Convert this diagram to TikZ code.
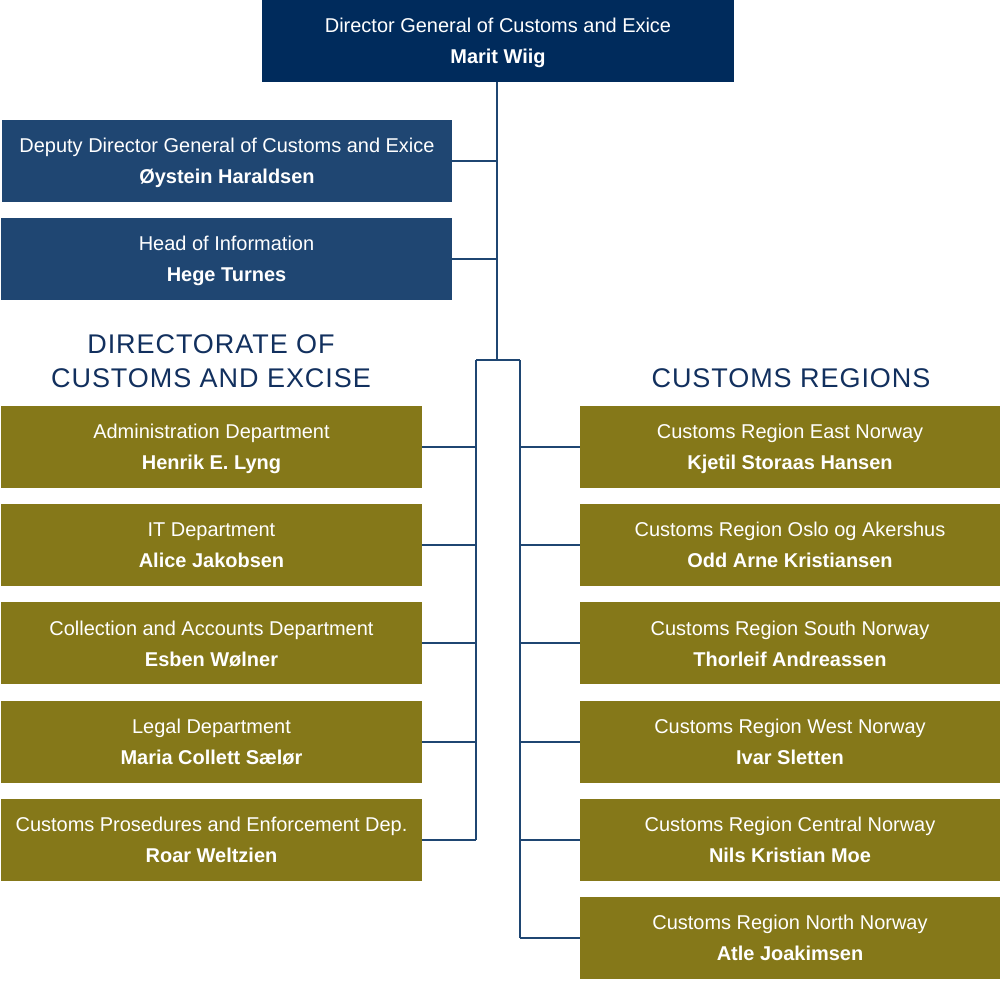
\documentclass[tikz,border=0pt]{standalone}
\usepackage{fontspec}
\setmainfont{Liberation Sans}
\newfontfamily\headfont[LetterSpace=3.5]{Liberation Sans}
\usepackage{xcolor}
\usetikzlibrary{positioning}
\usetikzlibrary{calc}

\definecolor{topblue}{HTML}{002B5C}
\definecolor{staffblue}{HTML}{1F4672}
\definecolor{unitolive}{HTML}{857819}
\definecolor{headblue}{HTML}{12305E}

\tikzset{
	unit/.style={rectangle, fill=#1, text=white, align=center, inner sep=0pt,
		minimum height=2.05cm, text depth=0pt, font=\fontsize{14.2}{22}\selectfont},
	topbox/.style={unit=topblue, minimum width=11.8cm},
	staffbox/.style={unit=staffblue, minimum width=11.25cm},
	dirbox/.style={unit=unitolive, minimum width=10.525cm},
	regbox/.style={unit=unitolive, minimum width=10.5cm},
	heading/.style={text=headblue, align=center, inner sep=0pt,
		font=\headfont\fontsize{19.2}{24.2}\selectfont},
	link/.style={staffblue, line width=1.3pt}
}

\begin{document}
\begin{tikzpicture}[x=0.025cm, y=-0.025cm]
	\useasboundingbox (0,0) rectangle (1000,981);

%top
	\node[topbox] (dg) at (498, 40.5) {Director General of Customs and Exice\\\textbf{Marit Wiig}};
	\node[staffbox] (deputy) at (227, 161) {Deputy Director General of Customs and Exice\\\textbf{Øystein Haraldsen}};
	\node[staffbox] (info) at (226.5, 259) {Head of Information\\\textbf{Hege Turnes}};

%headings
	\node[heading] (dirhead) at (211, 361) {DIRECTORATE OF\\CUSTOMS AND EXCISE};
	\node[heading] (reghead) at (791, 378) {CUSTOMS REGIONS};

%trunk
	\coordinate (split) at (497, 360);
	\coordinate (ltop) at (476, 360);
	\coordinate (rtop) at (520, 360);

	\draw[link] (dg.south -| split) -- (split);
	\draw[link] (deputy.east) -- (deputy.east -| split);
	\draw[link] (info.east) -- (info.east -| split);
	\draw[link] (ltop) -- (rtop);

%directorate
	\foreach \i/\dep/\boss in {1/Administration Department/Henrik E. Lyng,
		2/IT Department/Alice Jakobsen,
		3/Collection and Accounts Department/Esben Wølner,
		4/Legal Department/Maria Collett Sælør,
		5/Customs Prosedures and Enforcement Dep./Roar Weltzien}{
		\node[dirbox] (dir\i) at (211.5, {447 + 98.2*(\i-1)}) {\dep\\\textbf{\boss}};
		\draw[link] (dir\i.east) -- (dir\i.east -| ltop);
	}
	\draw[link] (ltop) -- (ltop |- dir5.east);

%regions
	\foreach \i/\reg/\boss in {1/Customs Region East Norway/Kjetil Storaas Hansen,
		2/Customs Region Oslo og Akershus/Odd Arne Kristiansen,
		3/Customs Region South Norway/Thorleif Andreassen,
		4/Customs Region West Norway/Ivar Sletten,
		5/Customs Region Central Norway/Nils Kristian Moe,
		6/Customs Region North Norway/Atle Joakimsen}{
		\node[regbox] (reg\i) at (790, {447 + 98.2*(\i-1)}) {\reg\\\textbf{\boss}};
		\draw[link] (reg\i.west) -- (reg\i.west -| rtop);
	}
	\draw[link] (rtop) -- (rtop |- reg6.west);

\end{tikzpicture}
\end{document}
